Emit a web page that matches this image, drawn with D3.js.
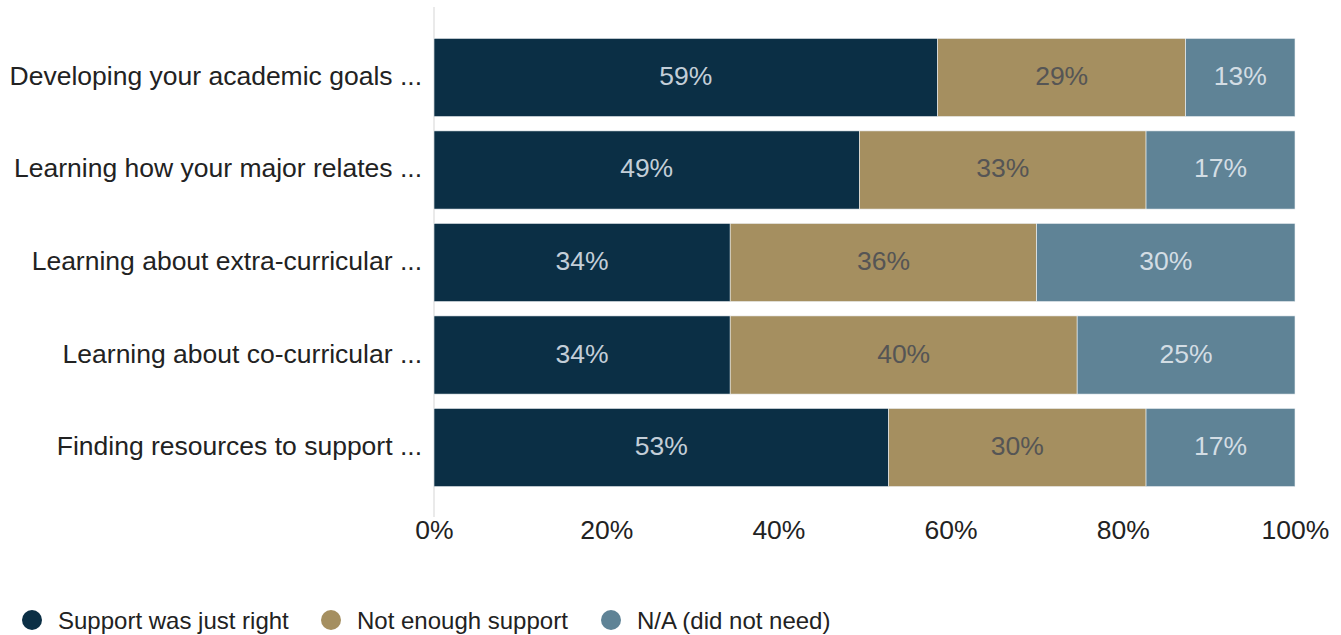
<!DOCTYPE html>
<html><head><meta charset="utf-8">
<script src="https://cdn.jsdelivr.net/npm/d3@7"></script>
<style>body{margin:0;background:#fff;}svg{display:block;font-family:"Liberation Sans",Arial,sans-serif;}</style>
</head><body><svg id="c" width="1341" height="635"></svg>
<script>
const categories = ["Developing your academic goals ...","Learning how your major relates ...","Learning about extra-curricular ...","Learning about co-curricular ...","Finding resources to support ..."];
const seriesNames = ["Support was just right","Not enough support","N/A (did not need)"];
const justRight = [58.5, 49.4, 34.4, 34.4, 52.8];
const notEnough = [28.8, 33.3, 35.6, 40.3, 29.9];
const notNeeded = [12.7, 17.3, 30.0, 25.3, 17.3];
const tickValues = [0, 20, 40, 60, 80, 100];
const colors = ["#0b2f45", "#a58f60", "#5f8396"];
const labelColors = ["#c3ced8", "#555555", "#d3dde4"];

const svg = d3.select("#c");
const x = d3.scaleLinear().domain([0, 100]).range([434, 1295]);
const y = d3.scaleBand().domain(categories).range([31, 494]).paddingInner(0.155).paddingOuter(0.08);

const series = [justRight, notEnough, notNeeded];
const rows = categories.map((c, i) => {
  let acc = 0;
  return series.map((s, k) => { const r = {cat: c, k, v: s[i], x0: acc, x1: acc + s[i]}; acc += s[i]; return r; });
});

// baseline
svg.append("line").attr("x1", x(0)).attr("x2", x(0)).attr("y1", 7).attr("y2", 517)
  .attr("stroke", "#e3e3e3").attr("stroke-width", 1.5);

const g = svg.append("g");
rows.forEach(r => {
  r.forEach(d => {
    g.append("rect").attr("x", x(d.x0)).attr("y", y(d.cat)).attr("width", x(d.x1) - x(d.x0)).attr("height", y.bandwidth())
      .attr("fill", colors[d.k]).attr("stroke", "#eef2f5").attr("stroke-width", 0.6);
    g.append("text").attr("x", (x(d.x0) + x(d.x1)) / 2).attr("y", y(d.cat) + y.bandwidth() / 2 - 1.5)
      .attr("text-anchor", "middle").attr("dominant-baseline", "central")
      .attr("font-size", 26.5).attr("fill", labelColors[d.k]).text(Math.round(d.v) + "%");
  });
});

// y labels
categories.forEach(c => {
  svg.append("text").attr("x", 422).attr("y", y(c) + y.bandwidth() / 2 - 1.5).attr("text-anchor", "end")
    .attr("dominant-baseline", "central").attr("font-size", 26.5).attr("fill", "#222").text(c);
});

// x axis
const xAxis = d3.axisBottom(x).tickValues(tickValues).tickFormat(d => d + "%").tickSize(0).tickPadding(0);
const ax = svg.append("g").attr("transform", "translate(0,520)").call(xAxis);
ax.select(".domain").remove();
ax.selectAll("text").attr("font-size", 26.5).attr("fill", "#222").attr("font-family", "Liberation Sans, Arial, sans-serif")
  .attr("dy", "0.71em");

// legend
const legX = [32, 331, 611];
seriesNames.forEach((n, i) => {
  svg.append("circle").attr("cx", legX[i]).attr("cy", 620).attr("r", 10).attr("fill", colors[i]);
  svg.append("text").attr("x", legX[i] + 26).attr("y", 620.5).attr("dominant-baseline", "central")
    .attr("font-size", 24).attr("fill", "#222").text(n);
});
</script></body></html>
